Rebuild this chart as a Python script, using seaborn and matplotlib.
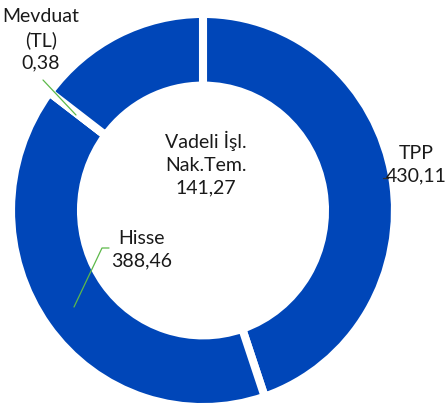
import matplotlib
matplotlib.use('Agg')
import matplotlib.pyplot as plt
import seaborn as sns

# data (clockwise from top)
categories = ["TPP", "Hisse", "Mevduat\n(TL)", "Vadeli İşl.\nNak.Tem."]
values = [430.11, 388.46, 0.38, 141.27]
value_labels = ["430,11", "388,46", "0,38", "141,27"]

sns.set_theme(style="white")
plt.rcParams['font.family'] = ['Lato', 'DejaVu Sans']

W, H = 445, 407
fig = plt.figure(figsize=(W / 100, H / 100), dpi=100)
ax = fig.add_axes([0, 0, 1, 1])

# ring is slightly wider than tall in the reference
cx, cy = 203, 210.5
sx, sy = 188.0, 192.5


def px(x, y):
    # pixel (from top-left) -> data coords
    return (x - cx) / sx, (cy - y) / sy


blue = "#0046B8"
gap = 5.8
pad = 4 / 190
inner = 0.67
ax.pie(values, colors=[blue] * len(values), startangle=90, counterclock=False,
       radius=1 + pad,
       wedgeprops=dict(width=1 + pad - (inner - pad), edgecolor="white", linewidth=gap))
ax.set_aspect('auto')
ax.set_xlim(-cx / sx, (W - cx) / sx)
ax.set_ylim(-(H - cy) / sy, cy / sy)
ax.axis('off')

txt = dict(fontsize=14, color="#1a1a1a", ha="center", va="center", linespacing=1.4)

# label centres (pixels)
ax.text(*px(416, 165), f"{categories[0]}\n{value_labels[0]}", **txt)
ax.text(*px(142, 250), f"{categories[1]}\n{value_labels[1]}", **txt)
ax.text(*px(41, 40), f"{categories[2]}\n{value_labels[2]}", **txt)
ax.text(*px(206, 164), f"{categories[3]}\n{value_labels[3]}", **txt)


def leader(points, color):
    xs, ys = zip(*[px(x, y) for x, y in points])
    ax.plot(xs, ys, color=color, lw=0.9)


green = "#5DB94A"
leader([(109, 248), (102, 248), (74, 307)], green)
leader([(43, 80), (76, 115)], green)
leader([(383, 178), (388, 178)], "#333333")

fig.savefig("out.png", dpi=100)
